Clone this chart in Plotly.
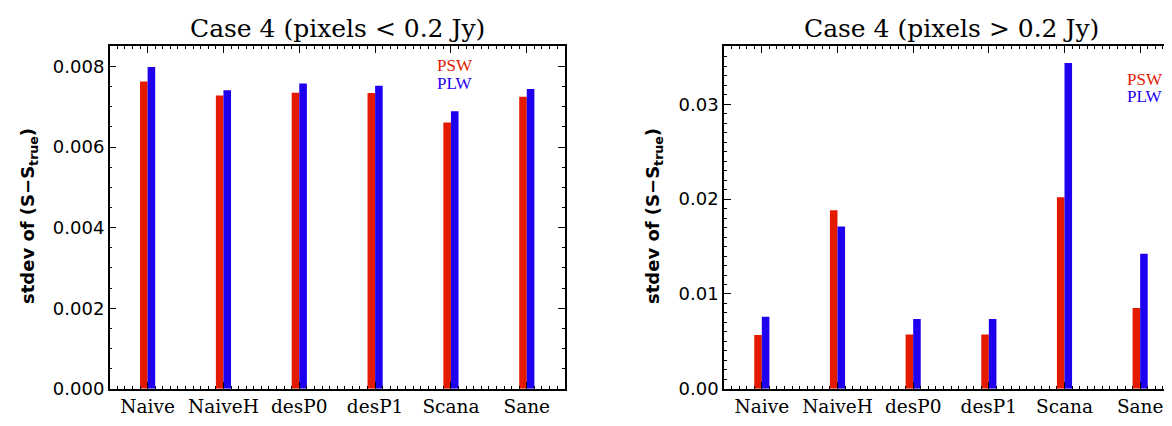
import plotly.graph_objects as go

categories = ["Naive", "NaiveH", "desP0", "desP1", "Scana", "Sane"]
psw_low = [0.00763, 0.00728, 0.00735, 0.00734, 0.00661, 0.00725]
plw_low = [0.00799, 0.00741, 0.00758, 0.00752, 0.00689, 0.00744]
psw_high = [0.00567, 0.01883, 0.00573, 0.00573, 0.0202, 0.00852]
plw_high = [0.00759, 0.01711, 0.00735, 0.00735, 0.03436, 0.01423]

RED = "#E41A00"
BLUE = "#1E00EE"
SERIF = "DejaVu Serif"
LEG = "Liberation Serif"
SANS = "DejaVu Sans"

xpos = list(range(len(categories)))

fig = go.Figure()
fig.add_trace(go.Bar(x=xpos, y=psw_low, marker=dict(color=RED, line=dict(width=0)), xaxis="x", yaxis="y", showlegend=False))
fig.add_trace(go.Bar(x=xpos, y=plw_low, marker=dict(color=BLUE, line=dict(width=0)), xaxis="x", yaxis="y", showlegend=False))
fig.add_trace(go.Bar(x=xpos, y=psw_high, marker=dict(color=RED, line=dict(width=0)), xaxis="x2", yaxis="y2", showlegend=False))
fig.add_trace(go.Bar(x=xpos, y=plw_high, marker=dict(color=BLUE, line=dict(width=0)), xaxis="x2", yaxis="y2", showlegend=False))

W, H = 1172, 426
def px(x):
    return x / W
def py(y):
    return (H - y) / H

xcommon = dict(
    range=[-0.5, 5.5], tickmode="array", tickvals=xpos, ticktext=categories,
    ticks="inside", ticklen=7, tickwidth=1, tickcolor="black",
    minor=dict(dtick=0.1, tick0=0, ticks="inside", ticklen=3, tickwidth=1, tickcolor="black"),
    showline=True, linecolor="black", linewidth=1.5, mirror="allticks",
    showgrid=False, zeroline=False,
    tickfont=dict(family=SERIF, size=18.5, color="black"),
    fixedrange=True,
)
ycommon = dict(
    ticks="inside", ticklen=7, tickwidth=1, tickcolor="black",
    showline=True, linecolor="black", linewidth=1.5, mirror="allticks",
    showgrid=False, zeroline=False,
    tickfont=dict(family=SANS, size=18, color="black"),
    fixedrange=True,
)

fig.update_layout(
    width=W, height=H,
    margin=dict(l=0, r=0, t=0, b=0),
    paper_bgcolor="white", plot_bgcolor="white",
    barmode="group", bargap=0.8, bargroupgap=0,
    xaxis=dict(domain=[px(101.7), px(556.7)], anchor="y", **xcommon),
    yaxis=dict(domain=[py(390), py(39.3)], anchor="x", range=[0, 0.0085],
               dtick=0.002, tick0=0, tickformat=".3f",
               minor=dict(dtick=0.0005, ticks="inside", ticklen=3, tickwidth=1, tickcolor="black"),
               **ycommon),
    xaxis2=dict(domain=[px(716), px(1170)], anchor="y2", **xcommon),
    yaxis2=dict(domain=[py(390), py(39.3)], anchor="x2", range=[0, 0.0361],
                dtick=0.01, tick0=0, tickformat=".2f",
                minor=dict(dtick=0.001, ticks="inside", ticklen=3, tickwidth=1, tickcolor="black"),
                **ycommon),
)

ytitle = "<b>stdev of (S\u2212S<sub>true</sub>)</b>"
annotations = [
    dict(text="Case 4 (pixels &lt; 0.2 Jy)", x=px(329), y=py(21), xref="paper", yref="paper",
         showarrow=False, font=dict(family=SERIF, size=25, color="black"), xanchor="center", yanchor="middle"),
    dict(text="Case 4 (pixels &gt; 0.2 Jy)", x=px(943), y=py(21), xref="paper", yref="paper",
         showarrow=False, font=dict(family=SERIF, size=25, color="black"), xanchor="center", yanchor="middle"),
    dict(text=ytitle, x=px(21), y=py(213), xref="paper", yref="paper", textangle=-90,
         showarrow=False, font=dict(family=SANS, size=18, color="black"), xanchor="center", yanchor="middle"),
    dict(text=ytitle, x=px(646), y=py(213), xref="paper", yref="paper", textangle=-90,
         showarrow=False, font=dict(family=SANS, size=18, color="black"), xanchor="center", yanchor="middle"),
    dict(text="PSW", x=px(427), y=py(59), xref="paper", yref="paper", showarrow=False,
         font=dict(family=LEG, size=17, color=RED), xanchor="left", yanchor="middle"),
    dict(text="PLW", x=px(427), y=py(77), xref="paper", yref="paper", showarrow=False,
         font=dict(family=LEG, size=17, color=BLUE), xanchor="left", yanchor="middle"),
    dict(text="PSW", x=px(1117), y=py(73), xref="paper", yref="paper", showarrow=False,
         font=dict(family=LEG, size=17, color=RED), xanchor="left", yanchor="middle"),
    dict(text="PLW", x=px(1117), y=py(91), xref="paper", yref="paper", showarrow=False,
         font=dict(family=LEG, size=17, color=BLUE), xanchor="left", yanchor="middle"),
]
fig.update_layout(annotations=annotations)

fig.write_html("out.html")
